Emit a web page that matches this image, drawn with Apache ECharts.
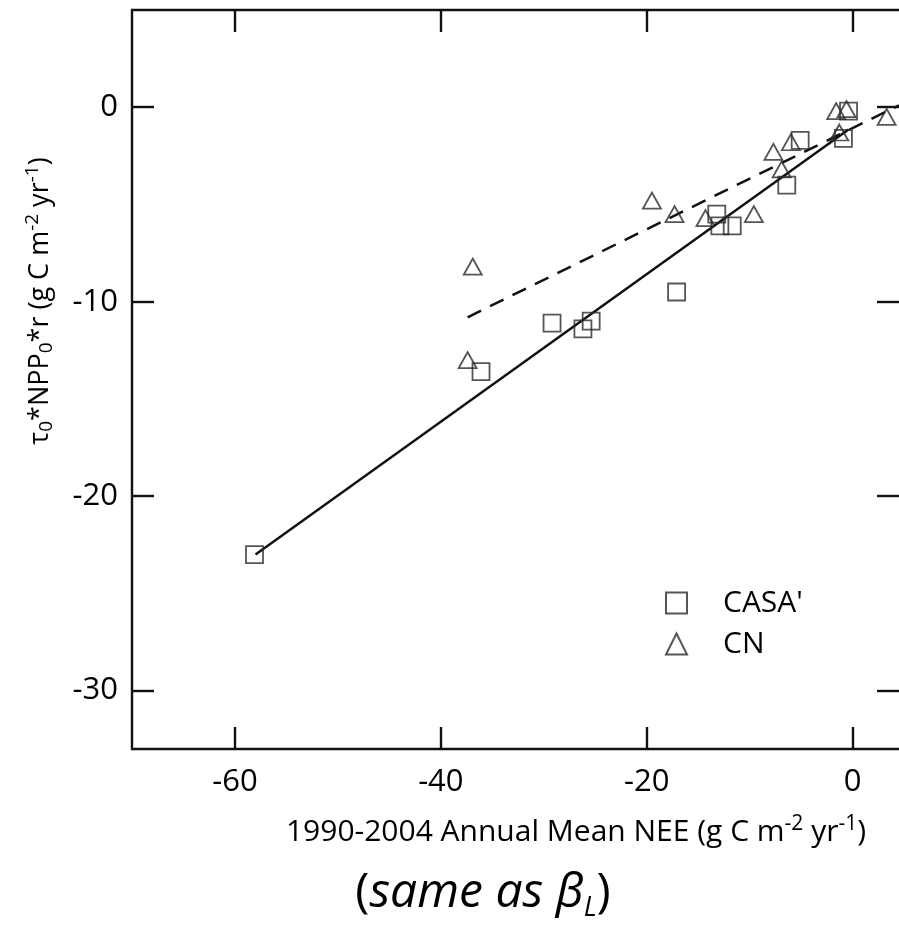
<!DOCTYPE html>
<html>
<head>
<meta charset="utf-8">
<script src="https://cdn.jsdelivr.net/npm/echarts@6/dist/echarts.min.js"></script>
<style>
  html, body { margin: 0; padding: 0; background: #fff; }
  #chart { width: 899px; height: 928px; }
</style>
</head>
<body>
<div id="chart"></div>
<script>
// CASA' points (NEE, tau0*NPP0*r)
var casaX = [-58.1, -36.1, -29.2, -26.2, -25.4, -17.1, -13.2, -12.9, -11.7, -6.4, -5.1, -0.9, -0.4];
var casaY = [-23.0, -13.6, -11.1, -11.4, -11.0, -9.5, -5.5, -6.1, -6.1, -4.0, -1.7, -1.6, -0.2];
// CN points
var cnX = [-36.9, -37.4, -19.5, -17.3, -14.3, -9.6, -7.7, -6.9, -6.0, -1.6, -0.6, -1.3, 3.3];
var cnY = [-8.2, -13.0, -4.8, -5.5, -5.7, -5.5, -2.3, -3.2, -1.8, -0.2, -0.1, -1.3, -0.5];
// regression lines
var casaFitX = [-58.0, -0.4];
var casaFitY = [-23.0, -1.15];
var cnFitX = [-37.4, 4.5];
var cnFitY = [-10.8, 0.1];
var xTicks = [-60, -40, -20, 0];
var yTicks = [0, -10, -20, -30];

function pairs(xs, ys) {
  return xs.map(function (x, i) { return [x, ys[i]]; });
}

var FONT = '"Open Sans", sans-serif';
var INK = '#111';

var chart = echarts.init(document.getElementById('chart'));

function axisBase(extra, ticks) {
  return Object.assign({
    type: 'value',
    axisLine: { show: true, onZero: false, lineStyle: { color: INK, width: 2.4 } },
    axisTick: { show: true, inside: true, length: 22, customValues: ticks,
      lineStyle: { color: INK, width: 2.4 } },
    splitLine: { show: false }
  }, extra);
}

var tickStyle = { color: '#000', fontFamily: FONT, fontSize: 31 };

var option = {
  backgroundColor: '#fff',
  animation: false,
  grid: { left: 132, right: 0, top: 10, bottom: 179 },
  xAxis: [
    axisBase({
      min: -70, max: 4.5, position: 'bottom',
      axisLabel: Object.assign({ margin: 18, customValues: xTicks }, tickStyle)
    }, xTicks),
    axisBase({
      min: -70, max: 4.5, position: 'top',
      axisLabel: { show: false }
    }, xTicks)
  ],
  yAxis: [
    axisBase({
      min: -33, max: 5, position: 'left',
      axisLabel: Object.assign({ margin: 14, customValues: yTicks }, tickStyle)
    }, yTicks),
    axisBase({
      min: -33, max: 5, position: 'right',
      axisLine: { show: false, onZero: false },
      axisLabel: { show: false }
    }, yTicks)
  ],
  legend: {
    orient: 'vertical',
    left: 660, top: 583,
    itemWidth: 21, itemHeight: 21, itemGap: 11,
    data: ["CASA'", 'CN'],
    textStyle: { color: '#000', fontFamily: FONT, fontSize: 30, padding: [0, 0, 0, 31] }
  },
  series: [
    {
      name: 'casaFit', type: 'line', data: pairs(casaFitX, casaFitY),
      symbol: 'none', lineStyle: { color: INK, width: 2.5 }, z: 3, silent: true
    },
    {
      name: 'cnFit', type: 'line', data: pairs(cnFitX, cnFitY),
      symbol: 'none', lineStyle: { color: INK, width: 2.5, type: [15, 10] }, z: 3, silent: true
    },
    {
      name: "CASA'", type: 'scatter', data: pairs(casaX, casaY),
      symbol: 'rect', symbolSize: 17,
      itemStyle: { color: 'rgba(0,0,0,0)', borderColor: '#2a2a2a', borderWidth: 1.8 }, z: 4
    },
    {
      name: 'CN', type: 'scatter', data: pairs(cnX, cnY),
      symbol: 'triangle', symbolSize: [18, 16],
      itemStyle: { color: 'rgba(0,0,0,0)', borderColor: '#2a2a2a', borderWidth: 1.8 }, z: 4
    }
  ],
  graphic: [
    {
      type: 'text', x: 576, y: 832,
      style: {
        text: '1990-2004 Annual Mean NEE (g C m{sup|-2} yr{sup|-1})',
        fill: '#000', font: '30px ' + FONT, align: 'center', verticalAlign: 'middle',
        lineHeight: 36,
        rich: {
          sup: { fontSize: 21, lineHeight: 22, verticalAlign: 'top', fontFamily: FONT, fill: '#000' }
        }
      }
    },
    {
      type: 'text', x: 40, y: 301, rotation: Math.PI / 2,
      style: {
        text: 'τ{sub|0}*NPP{sub|0}*r (g C m{sup|-2} yr{sup|-1})',
        fill: '#000', font: '27px ' + FONT, align: 'center', verticalAlign: 'middle',
        lineHeight: 33,
        rich: {
          sup: { fontSize: 19, lineHeight: 20, verticalAlign: 'top', fontFamily: FONT, fill: '#000' },
          sub: { fontSize: 19, lineHeight: 20, verticalAlign: 'bottom', fontFamily: FONT, fill: '#000' }
        }
      }
    },
    {
      type: 'text', x: 483, y: 893,
      style: {
        text: '(' + '{it|same as }{b|β}{sub|L}' + ')',
        fill: '#000', font: '48px ' + FONT, align: 'center', verticalAlign: 'middle',
        lineHeight: 58,
        rich: {
          it: { fontStyle: 'italic', fontSize: 48, fontFamily: FONT, fill: '#000' },
          b: { fontStyle: 'italic', fontSize: 48, fontFamily: FONT, fill: '#000' },
          sub: { fontStyle: 'italic', fontSize: 27, lineHeight: 30, verticalAlign: 'bottom', fontFamily: FONT, fill: '#000' }
        }
      }
    }
  ]
};

chart.setOption(option);
</script>
</body>
</html>
